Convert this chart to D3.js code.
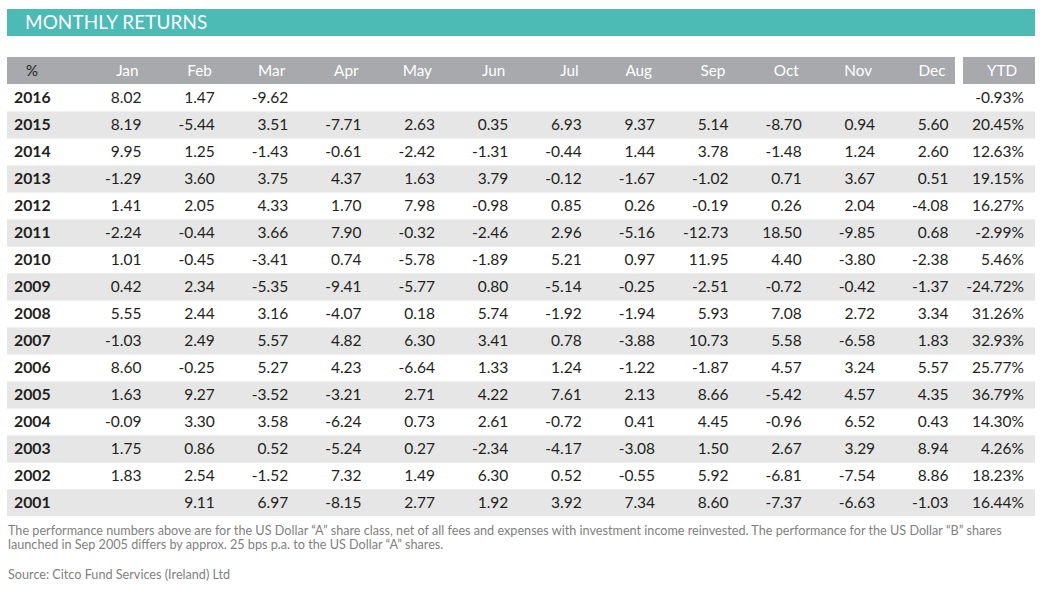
<!DOCTYPE html>
<html><head><meta charset="utf-8">
<script src="https://cdn.jsdelivr.net/npm/d3@7"></script>
<style>body{margin:0;background:#fff}svg{display:block}</style>
</head><body>
<svg id="c" width="1044" height="590"></svg>
<script>
const title = "MONTHLY RETURNS";
const months = ["Jan","Feb","Mar","Apr","May","Jun","Jul","Aug","Sep","Oct","Nov","Dec"];
const years = ["2016","2015","2014","2013","2012","2011","2010","2009","2008","2007","2006","2005","2004","2003","2002","2001"];
const r2016 = ["8.02","1.47","-9.62","","","","","","","","",""];
const r2015 = ["8.19","-5.44","3.51","-7.71","2.63","0.35","6.93","9.37","5.14","-8.70","0.94","5.60"];
const r2014 = ["9.95","1.25","-1.43","-0.61","-2.42","-1.31","-0.44","1.44","3.78","-1.48","1.24","2.60"];
const r2013 = ["-1.29","3.60","3.75","4.37","1.63","3.79","-0.12","-1.67","-1.02","0.71","3.67","0.51"];
const r2012 = ["1.41","2.05","4.33","1.70","7.98","-0.98","0.85","0.26","-0.19","0.26","2.04","-4.08"];
const r2011 = ["-2.24","-0.44","3.66","7.90","-0.32","-2.46","2.96","-5.16","-12.73","18.50","-9.85","0.68"];
const r2010 = ["1.01","-0.45","-3.41","0.74","-5.78","-1.89","5.21","0.97","11.95","4.40","-3.80","-2.38"];
const r2009 = ["0.42","2.34","-5.35","-9.41","-5.77","0.80","-5.14","-0.25","-2.51","-0.72","-0.42","-1.37"];
const r2008 = ["5.55","2.44","3.16","-4.07","0.18","5.74","-1.92","-1.94","5.93","7.08","2.72","3.34"];
const r2007 = ["-1.03","2.49","5.57","4.82","6.30","3.41","0.78","-3.88","10.73","5.58","-6.58","1.83"];
const r2006 = ["8.60","-0.25","5.27","4.23","-6.64","1.33","1.24","-1.22","-1.87","4.57","3.24","5.57"];
const r2005 = ["1.63","9.27","-3.52","-3.21","2.71","4.22","7.61","2.13","8.66","-5.42","4.57","4.35"];
const r2004 = ["-0.09","3.30","3.58","-6.24","0.73","2.61","-0.72","0.41","4.45","-0.96","6.52","0.43"];
const r2003 = ["1.75","0.86","0.52","-5.24","0.27","-2.34","-4.17","-3.08","1.50","2.67","3.29","8.94"];
const r2002 = ["1.83","2.54","-1.52","7.32","1.49","6.30","0.52","-0.55","5.92","-6.81","-7.54","8.86"];
const r2001 = ["","9.11","6.97","-8.15","2.77","1.92","3.92","7.34","8.60","-7.37","-6.63","-1.03"];
const ytd = ["-0.93%","20.45%","12.63%","19.15%","16.27%","-2.99%","5.46%","-24.72%","31.26%","32.93%","25.77%","36.79%","14.30%","4.26%","18.23%","16.44%"];
const notes = [
 "The performance numbers above are for the US Dollar \u201CA\u201D share class, net of all fees and expenses with investment income reinvested. The performance for the US Dollar \u201CB\u201D shares",
 "launched in Sep 2005 differs by approx. 25 bps p.a. to the US Dollar \u201CA\u201D shares."
];
const source = "Source: Citco Fund Services (Ireland) Ltd";

const rows = [r2016,r2015,r2014,r2013,r2012,r2011,r2010,r2009,r2008,r2007,r2006,r2005,r2004,r2003,r2002,r2001];

const svg = d3.select("#c");
const font = "Lato, 'Open Sans', sans-serif";
const txt = "#231f20";

// title bar
svg.append("rect").attr("x",7).attr("y",9).attr("width",1028).attr("height",27).attr("fill","#4cbab5");
svg.append("text").attr("x",25).attr("y",29).text(title)
  .attr("fill","#fff").attr("font-family",font).attr("font-size",18.9).attr("letter-spacing",0.1);

// scales
const y = d3.scaleBand().domain(years).range([84, 84+27*years.length]).padding(0);
const x = d3.scalePoint().domain(months).range([141.5, 948.5]);
const ytdX = 1024;

// header
svg.append("rect").attr("x",7).attr("y",57).attr("width",948).attr("height",27).attr("fill","#a7a9ac");
svg.append("rect").attr("x",963).attr("y",57).attr("width",72).attr("height",27).attr("fill","#a7a9ac");
svg.append("text").attr("x",32).attr("y",76).attr("text-anchor","middle").text("%")
  .attr("fill",txt).attr("font-family",font).attr("font-size",15);
svg.selectAll("text.mh").data(months).join("text").attr("class","mh")
  .attr("x",d=>x(d)-3).attr("y",76).attr("text-anchor","end").text(d=>d)
  .attr("fill","#fff").attr("font-family",font).attr("font-size",15.3);
svg.append("text").attr("x",1002).attr("y",76).attr("text-anchor","middle").text("YTD")
  .attr("fill","#fff").attr("font-family",font).attr("font-size",15.3);

// row bands
svg.selectAll("rect.band").data(years).join("rect").attr("class","band")
  .attr("x",7).attr("width",1028).attr("y",d=>y(d)).attr("height",y.bandwidth())
  .attr("fill",(d,i)=> i%2===1 ? "#e6e6e6" : "#ffffff");
// separator lines
svg.selectAll("line.sep").data(years.slice(1)).join("line").attr("class","sep")
  .attr("x1",7).attr("x2",1035).attr("y1",d=>y(d)+0.5).attr("y2",d=>y(d)+0.5)
  .attr("stroke","#f0f0f0").attr("stroke-width",1);

// year labels
svg.selectAll("text.yr").data(years).join("text").attr("class","yr")
  .attr("x",14).attr("y",d=>y(d)+19).text(d=>d)
  .attr("fill",txt).attr("font-family",font).attr("font-weight","bold").attr("font-size",15.8);

// values
const g = svg.append("g");
rows.forEach((r,i)=>{
  g.selectAll(null).data(r.map((v,j)=>({v,m:months[j]}))).join("text")
    .attr("x",d=>x(d.m)).attr("y",y(years[i])+19).attr("text-anchor","end").text(d=>d.v)
    .attr("fill",txt).attr("font-family",font).attr("font-size",15.5);
});
svg.selectAll("text.ytd").data(ytd).join("text").attr("class","ytd")
  .attr("x",ytdX).attr("y",(d,i)=>y(years[i])+19).attr("text-anchor","end").text(d=>d)
  .attr("fill",txt).attr("font-family",font).attr("font-size",15.5);

// notes
svg.selectAll("text.note").data(notes).join("text").attr("class","note")
  .attr("x",8).attr("y",(d,i)=>535+i*14).text(d=>d)
  .attr("fill","#7f7f7f").attr("font-family",font).attr("font-size",12.65);
svg.append("text").attr("x",8).attr("y",579).text(source)
  .attr("fill","#7f7f7f").attr("font-family",font).attr("font-size",12.65);
</script>
</body></html>
